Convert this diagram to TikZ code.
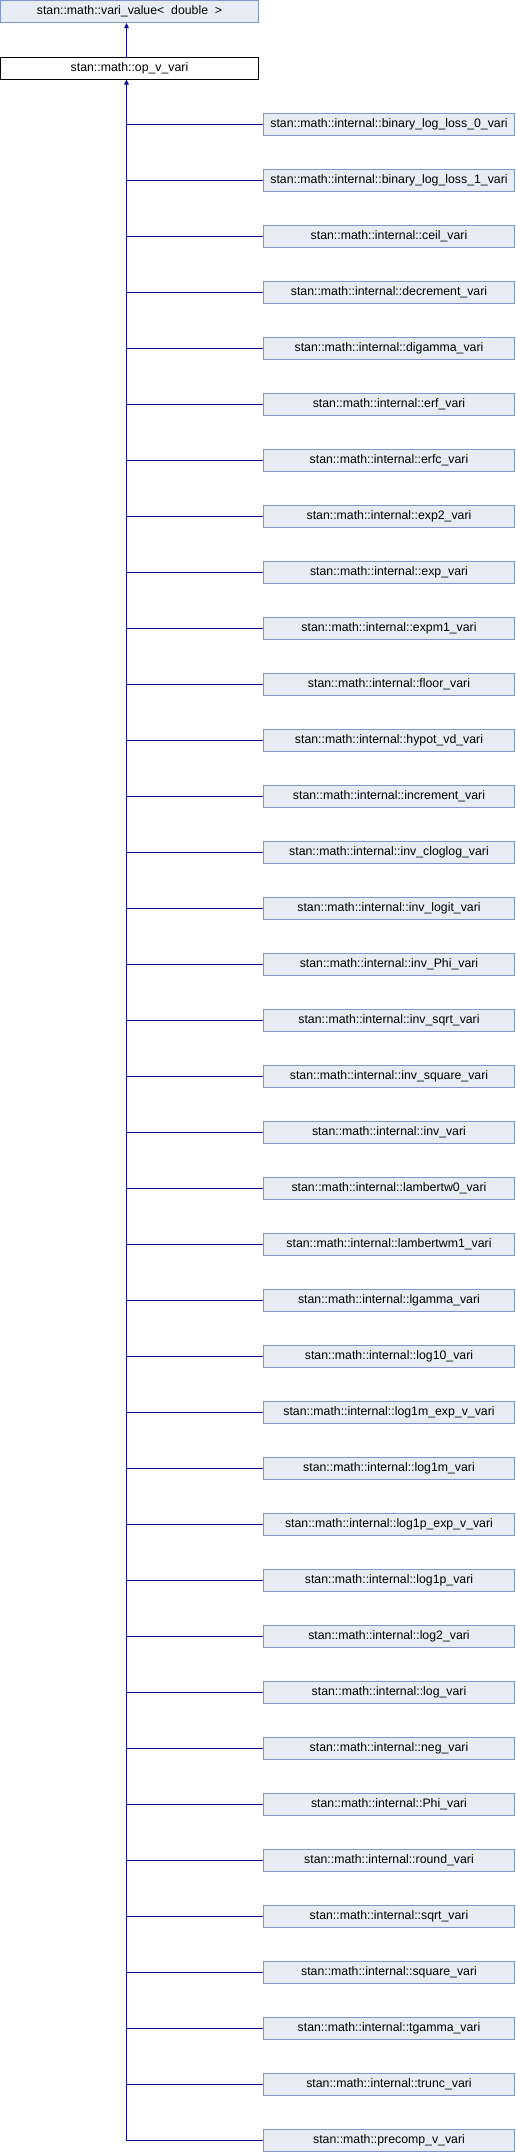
\documentclass[tikz,border=0pt]{standalone}
\usepackage{fontspec}
\setmainfont{Liberation Sans}
\usetikzlibrary{arrows.meta}
\definecolor{boxfill}{HTML}{E8ECF5}
\definecolor{boxline}{HTML}{7E97CB}
\definecolor{edgeblue}{HTML}{10109C}
\begin{document}
\begin{tikzpicture}[x=1pt,y=-1pt,
  every node/.style={inner sep=0pt,font=\fontsize{12.3}{14}\selectfont},
  cls/.style={draw=boxline,fill=boxfill,line width=1pt,minimum width=251pt,minimum height=22pt},
  base/.style={cls,minimum width=258pt},
  cur/.style={draw=black,fill=white,line width=1pt,minimum width=258pt,minimum height=22pt},
  edge/.style={draw=edgeblue,line width=1pt},
  inh/.style={edge,-{Triangle[width=4.5pt,length=5pt]}}]
\useasboundingbox (0,0) rectangle (516,2152);
\node [base] (vv) at (129.5,11.5) {stan::math::vari\_value<\ \ double\ \ >};
\node [cur] (op) at (129.5,68) {stan::math::op\_v\_vari};
\coordinate (trunk) at (126.5,0);
\node [cls] (bll0) at (389,124) {stan::math::internal::binary\_log\_loss\_0\_vari};
\node [cls] (bll1) at (389,180) {stan::math::internal::binary\_log\_loss\_1\_vari};
\node [cls] (ceil) at (389,236) {stan::math::internal::ceil\_vari};
\node [cls] (decr) at (389,292) {stan::math::internal::decrement\_vari};
\node [cls] (digam) at (389,348) {stan::math::internal::digamma\_vari};
\node [cls] (erf) at (389,404) {stan::math::internal::erf\_vari};
\node [cls] (erfc) at (389,460) {stan::math::internal::erfc\_vari};
\node [cls] (exptwo) at (389,516) {stan::math::internal::exp2\_vari};
\node [cls] (exp) at (389,572) {stan::math::internal::exp\_vari};
\node [cls] (expmone) at (389,628) {stan::math::internal::expm1\_vari};
\node [cls] (floor) at (389,684) {stan::math::internal::floor\_vari};
\node [cls] (hypot) at (389,740) {stan::math::internal::hypot\_vd\_vari};
\node [cls] (incr) at (389,796) {stan::math::internal::increment\_vari};
\node [cls] (icll) at (389,852) {stan::math::internal::inv\_cloglog\_vari};
\node [cls] (ilogit) at (389,908) {stan::math::internal::inv\_logit\_vari};
\node [cls] (iphi) at (389,964) {stan::math::internal::inv\_Phi\_vari};
\node [cls] (isqrt) at (389,1020) {stan::math::internal::inv\_sqrt\_vari};
\node [cls] (isq) at (389,1076) {stan::math::internal::inv\_square\_vari};
\node [cls] (inv) at (389,1132) {stan::math::internal::inv\_vari};
\node [cls] (lwz) at (389,1188) {stan::math::internal::lambertw0\_vari};
\node [cls] (lwm) at (389,1244) {stan::math::internal::lambertwm1\_vari};
\node [cls] (lgam) at (389,1300) {stan::math::internal::lgamma\_vari};
\node [cls] (logten) at (389,1356) {stan::math::internal::log10\_vari};
\node [cls] (lomexp) at (389,1412) {stan::math::internal::log1m\_exp\_v\_vari};
\node [cls] (lom) at (389,1468) {stan::math::internal::log1m\_vari};
\node [cls] (lopexp) at (389,1524) {stan::math::internal::log1p\_exp\_v\_vari};
\node [cls] (lop) at (389,1580) {stan::math::internal::log1p\_vari};
\node [cls] (logtwo) at (389,1636) {stan::math::internal::log2\_vari};
\node [cls] (log) at (389,1692) {stan::math::internal::log\_vari};
\node [cls] (neg) at (389,1748) {stan::math::internal::neg\_vari};
\node [cls] (phi) at (389,1804) {stan::math::internal::Phi\_vari};
\node [cls] (round) at (389,1860) {stan::math::internal::round\_vari};
\node [cls] (sqrt) at (389,1916) {stan::math::internal::sqrt\_vari};
\node [cls] (square) at (389,1972) {stan::math::internal::square\_vari};
\node [cls] (tgam) at (389,2028) {stan::math::internal::tgamma\_vari};
\node [cls] (trunc) at (389,2084) {stan::math::internal::trunc\_vari};
\node [cls] (precomp) at (389,2140) {stan::math::precomp\_v\_vari};
\draw [inh] (op.north -| trunk) -- (vv.south -| trunk);
\draw [inh] (precomp.west) -| (op.south -| trunk);
\draw [edge] (bll0.west) -- (bll0.west -| trunk);
\draw [edge] (bll1.west) -- (bll1.west -| trunk);
\draw [edge] (ceil.west) -- (ceil.west -| trunk);
\draw [edge] (decr.west) -- (decr.west -| trunk);
\draw [edge] (digam.west) -- (digam.west -| trunk);
\draw [edge] (erf.west) -- (erf.west -| trunk);
\draw [edge] (erfc.west) -- (erfc.west -| trunk);
\draw [edge] (exptwo.west) -- (exptwo.west -| trunk);
\draw [edge] (exp.west) -- (exp.west -| trunk);
\draw [edge] (expmone.west) -- (expmone.west -| trunk);
\draw [edge] (floor.west) -- (floor.west -| trunk);
\draw [edge] (hypot.west) -- (hypot.west -| trunk);
\draw [edge] (incr.west) -- (incr.west -| trunk);
\draw [edge] (icll.west) -- (icll.west -| trunk);
\draw [edge] (ilogit.west) -- (ilogit.west -| trunk);
\draw [edge] (iphi.west) -- (iphi.west -| trunk);
\draw [edge] (isqrt.west) -- (isqrt.west -| trunk);
\draw [edge] (isq.west) -- (isq.west -| trunk);
\draw [edge] (inv.west) -- (inv.west -| trunk);
\draw [edge] (lwz.west) -- (lwz.west -| trunk);
\draw [edge] (lwm.west) -- (lwm.west -| trunk);
\draw [edge] (lgam.west) -- (lgam.west -| trunk);
\draw [edge] (logten.west) -- (logten.west -| trunk);
\draw [edge] (lomexp.west) -- (lomexp.west -| trunk);
\draw [edge] (lom.west) -- (lom.west -| trunk);
\draw [edge] (lopexp.west) -- (lopexp.west -| trunk);
\draw [edge] (lop.west) -- (lop.west -| trunk);
\draw [edge] (logtwo.west) -- (logtwo.west -| trunk);
\draw [edge] (log.west) -- (log.west -| trunk);
\draw [edge] (neg.west) -- (neg.west -| trunk);
\draw [edge] (phi.west) -- (phi.west -| trunk);
\draw [edge] (round.west) -- (round.west -| trunk);
\draw [edge] (sqrt.west) -- (sqrt.west -| trunk);
\draw [edge] (square.west) -- (square.west -| trunk);
\draw [edge] (tgam.west) -- (tgam.west -| trunk);
\draw [edge] (trunc.west) -- (trunc.west -| trunk);
\end{tikzpicture}
\end{document}
